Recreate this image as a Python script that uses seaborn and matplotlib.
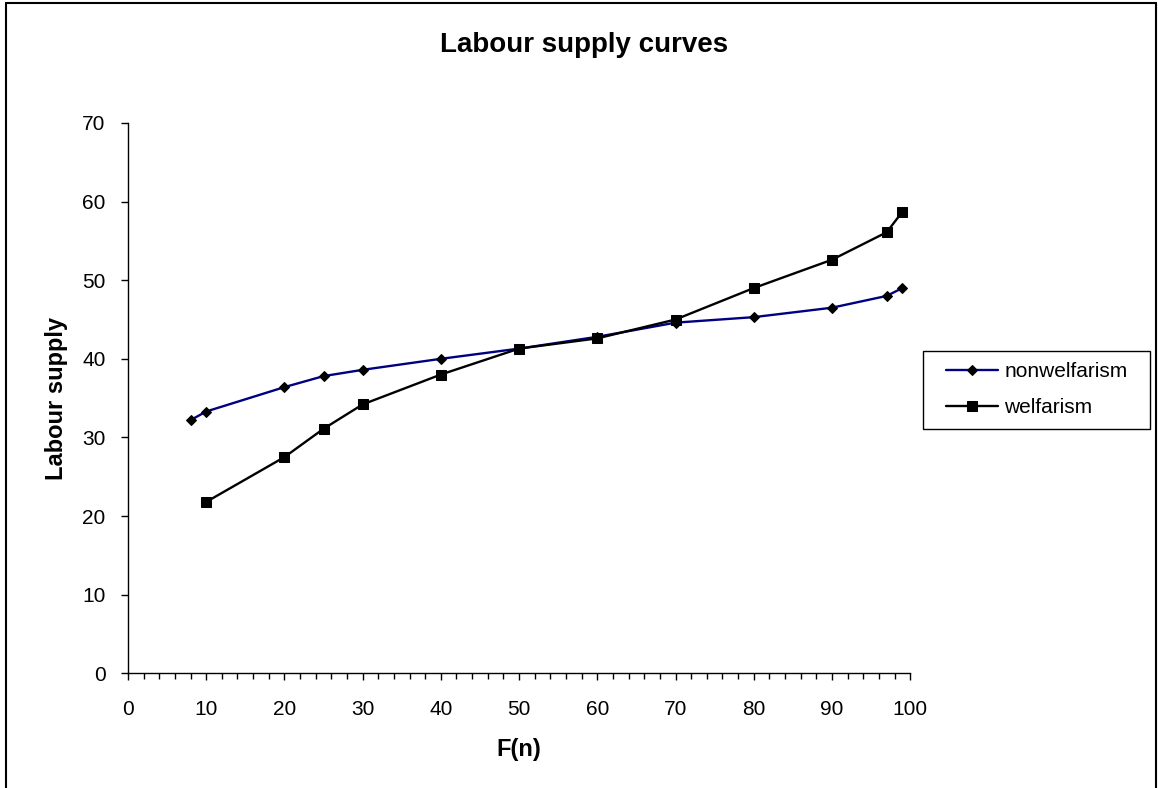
import numpy as np
import pandas as pd
import matplotlib
matplotlib.use('Agg')
import matplotlib.pyplot as plt
from matplotlib.ticker import MultipleLocator
from matplotlib.legend_handler import HandlerLine2D
import seaborn as sns

# values
fn_nonwelf = [8, 10, 20, 25, 30, 40, 50, 60, 70, 80, 90, 97, 99]
ls_nonwelf = [32.2, 33.3, 36.4, 37.8, 38.6, 40.0, 41.3, 42.8, 44.6, 45.3, 46.5, 48.0, 49.0]
fn_welf = [10, 20, 25, 30, 40, 50, 60, 70, 80, 90, 97, 99]
ls_welf = [21.8, 27.5, 31.1, 34.2, 38.0, 41.3, 42.6, 45.0, 49.0, 52.6, 56.1, 58.7]

sns.set_style('white')
plt.rcParams['font.family'] = ['Liberation Sans', 'DejaVu Sans']
plt.rcParams['text.color'] = 'black'
plt.rcParams['axes.labelcolor'] = 'black'
plt.rcParams['xtick.color'] = 'black'
plt.rcParams['ytick.color'] = 'black'

fig = plt.figure(figsize=(11.58, 7.88), dpi=100)
ax = fig.add_axes([0.1105, 0.1455, 0.6755, 0.6985])

df1 = pd.DataFrame({'F(n)': fn_nonwelf, 'Labour supply': ls_nonwelf})
df2 = pd.DataFrame({'F(n)': fn_welf, 'Labour supply': ls_welf})

sns.lineplot(data=df1, x='F(n)', y='Labour supply', ax=ax, color='#000080',
             marker='D', markersize=5.5, markerfacecolor='black',
             markeredgecolor='black', linewidth=1.7, label='nonwelfarism')
sns.lineplot(data=df2, x='F(n)', y='Labour supply', ax=ax, color='black',
             marker='s', markersize=7, markerfacecolor='black',
             markeredgecolor='black', linewidth=1.7, label='welfarism')

ax.set_xlim(0, 100)
ax.set_ylim(0, 70)
ax.xaxis.set_major_locator(MultipleLocator(10))
ax.xaxis.set_minor_locator(MultipleLocator(2))
ax.yaxis.set_major_locator(MultipleLocator(10))
ax.tick_params(axis='both', which='major', direction='out', length=5, width=1,
               color='black', labelsize=15, bottom=True, left=True)
ax.tick_params(axis='x', which='major', pad=14)
ax.tick_params(axis='y', which='major', pad=11)
ax.tick_params(axis='x', which='minor', direction='out', length=4, width=1,
               color='black', bottom=True)
for side in ['top', 'right']:
    ax.spines[side].set_visible(False)
for side in ['left', 'bottom']:
    ax.spines[side].set_color('black')
    ax.spines[side].set_linewidth(1)

ax.set_xlabel('F(n)', fontsize=17, fontweight='bold', labelpad=14)
ax.set_ylabel('Labour supply', fontsize=17, fontweight='bold', labelpad=10)

fig.text(0.5043, 0.9344, 'Labour supply curves', ha='center', va='baseline',
         fontsize=20, fontweight='bold')

hmap = {h: HandlerLine2D(xpad=0.55) for h in ax.get_lines()}
leg = ax.legend(loc='upper left', bbox_to_anchor=(0.797, 0.5546, 0.196, 0.0),
                bbox_transform=fig.transFigure, mode='expand', fontsize=15,
                frameon=True, fancybox=False, edgecolor='black', framealpha=1,
                borderpad=0.55, labelspacing=0.8, handlelength=3.05,
                handletextpad=0.3, borderaxespad=0, handler_map=hmap)
leg.get_frame().set_linewidth(1)

# outer frame of the chart area
for xs, ys in [([0.005, 0.005], [0, 0.996]), ([0.005, 0.998], [0.996, 0.996]),
               ([0.998, 0.998], [0, 0.996])]:
    fig.add_artist(plt.Line2D(xs, ys, color='black', linewidth=1.5,
                              transform=fig.transFigure))

fig.savefig('out.png', dpi=100)
